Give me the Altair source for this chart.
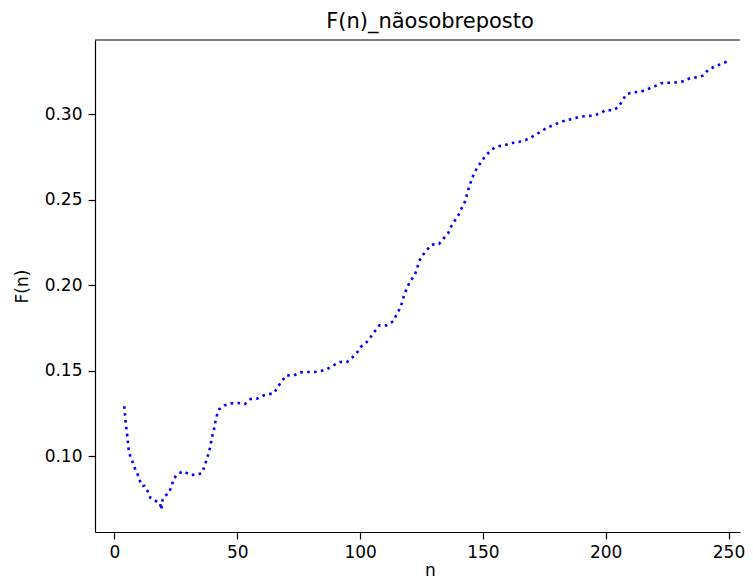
import altair as alt
import pandas as pd

title_text = "F(n)_nãosobreposto"
x_ticks = [0, 50, 100, 150, 200, 250]
y_ticks = [0.10, 0.15, 0.20, 0.25, 0.30]

n_values = [
    4.0, 4.5, 5.2, 5.8, 6.6, 7.8, 8.7, 10.0, 10.7, 11.5, 12.2, 13.5, 14.6, 15.6, 17.6,
    18.6, 19.0, 19.6, 20.2, 22.2, 23.3, 24.1, 25.7, 28.0, 30.9, 33.3, 35.5, 36.7, 37.5,
    38.5, 39.1, 39.6, 40.4, 40.9, 41.6, 42.6, 44.7, 47.4, 50.3, 53.1, 55.4, 58.0, 60.4,
    62.5, 64.9, 66.5, 68.2, 70.0, 72.9, 75.7, 78.3, 81.3, 84.0, 86.6, 89.1, 91.9, 94.7,
    96.9, 98.8, 100.4, 102.6, 104.3, 106.1, 107.8, 110.7, 113.5, 114.8, 116.1, 117.2,
    117.9, 119.2, 120.3, 122.1, 123.2, 123.9, 125.3, 127.2, 129.1, 132.1, 134.0, 135.9,
    137.1, 138.6, 140.2, 141.5, 142.8, 143.6, 144.4, 145.4, 146.5, 148.1, 149.7, 151.5,
    153.5, 156.0, 158.8, 161.7, 164.6, 167.4, 170.0, 172.6, 175.2, 177.8, 180.5, 183.3,
    186.2, 188.9, 191.7, 194.7, 197.4, 200.1, 203.0, 205.4, 206.8, 208.5, 211.4, 214.2,
    217.1, 219.9, 222.6, 225.6, 228.5, 231.4, 234.3, 237.1, 240.0, 241.6, 244.6, 247.3,
    250.0,
]
f_values = [
    0.1291, 0.1203, 0.1117, 0.1031, 0.0990, 0.0951, 0.0911, 0.0877, 0.0835, 0.0825, 0.0826,
    0.0794, 0.0756, 0.0749, 0.0729, 0.0724, 0.0686, 0.0745, 0.0762, 0.0785, 0.0826, 0.0867,
    0.0895, 0.0911, 0.0889, 0.0891, 0.0899, 0.0940, 0.0981, 0.1023, 0.1063, 0.1107, 0.1146,
    0.1189, 0.1234, 0.1273, 0.1296, 0.1308, 0.1310, 0.1304, 0.1333, 0.1335, 0.1353, 0.1361,
    0.1367, 0.1405, 0.1439, 0.1472, 0.1470, 0.1489, 0.1491, 0.1491, 0.1497, 0.1509, 0.1530,
    0.1550, 0.1550, 0.1577, 0.1606, 0.1639, 0.1665, 0.1696, 0.1731, 0.1764, 0.1764, 0.1788,
    0.1825, 0.1860, 0.1901, 0.1943, 0.1984, 0.2022, 0.2053, 0.2095, 0.2135, 0.2171, 0.2205,
    0.2236, 0.2240, 0.2273, 0.2304, 0.2343, 0.2378, 0.2413, 0.2454, 0.2491, 0.2534, 0.2575,
    0.2616, 0.2657, 0.2694, 0.2729, 0.2762, 0.2792, 0.2811, 0.2817, 0.2830, 0.2836, 0.2848,
    0.2867, 0.2889, 0.2912, 0.2930, 0.2946, 0.2961, 0.2971, 0.2982, 0.2988, 0.2990, 0.3002,
    0.3023, 0.3022, 0.3043, 0.3080, 0.3117, 0.3127, 0.3130, 0.3146, 0.3162, 0.3180, 0.3183,
    0.3185, 0.3191, 0.3209, 0.3215, 0.3226, 0.3257, 0.3279, 0.3294, 0.3310,
]

df = pd.DataFrame({"n": n_values, "F": f_values, "i": list(range(len(n_values)))})

W, H = 645, 492
FONT = "DejaVu Sans"
PX0, PPU = 114.5, 2.456  # page x of n=0 and pixels per unit
X_MIN = (95 - PX0) / PPU
X_MAX = (95 + W - PX0) / PPU

line = alt.Chart(df).mark_line(
    color="#0000ff", strokeWidth=2.6, strokeDash=[2.6, 4.3], strokeCap="butt"
).encode(
    x=alt.X(
        "n:Q",
        scale=alt.Scale(domain=[X_MIN, X_MAX], nice=False, zero=False),
        axis=alt.Axis(
            values=x_ticks, format="d", title="n", grid=False,
            tickSize=7, tickColor="black", tickWidth=1.2,
            domainColor="black", domainWidth=1.2,
            labelFont=FONT, labelFontSize=17, labelColor="black", labelPadding=5,
            labelBound=False, labelOverlap=False,
            titleFont=FONT, titleFontSize=17, titleFontWeight="normal", titleColor="black",
            titleX=335, titleY=43, titleBaseline="alphabetic", titleAlign="center",
        ),
    ),
    y=alt.Y(
        "F:Q",
        scale=alt.Scale(domain=[0.05556, 0.3433], nice=False, zero=False),
        axis=alt.Axis(
            values=y_ticks, format=".2f", title="F(n)", grid=False,
            tickSize=7, tickColor="black", tickWidth=1.2,
            domainColor="black", domainWidth=1.2,
            labelFont=FONT, labelFontSize=17, labelColor="black", labelPadding=6,
            titleFont=FONT, titleFontSize=17, titleFontWeight="normal", titleColor="black",
            titleX=-73, titleY=H / 2, titleBaseline="middle", titleAlign="center", titleAngle=270,
        ),
    ),
    order="i:Q",
)

top_spine = alt.Chart(pd.DataFrame({"a": [0]})).mark_rule(color="black", strokeWidth=1.2).encode(
    x=alt.value(0), x2=alt.value(W), y=alt.value(0)
)

title_mark = alt.Chart(pd.DataFrame({"t": [title_text]})).mark_text(
    font=FONT, fontSize=21, color="black", align="center", baseline="alphabetic"
).encode(x=alt.value(335), y=alt.value(-12), text="t:N")

chart = alt.layer(line, top_spine, title_mark).properties(
    width=W,
    height=H,
    autosize=alt.AutoSizeParams(type="none"),
    padding={"left": 87, "top": 32, "right": 5, "bottom": 47},
).configure_view(stroke=None)

chart.save("out.html", embed_options={"renderer": "svg", "actions": False})
